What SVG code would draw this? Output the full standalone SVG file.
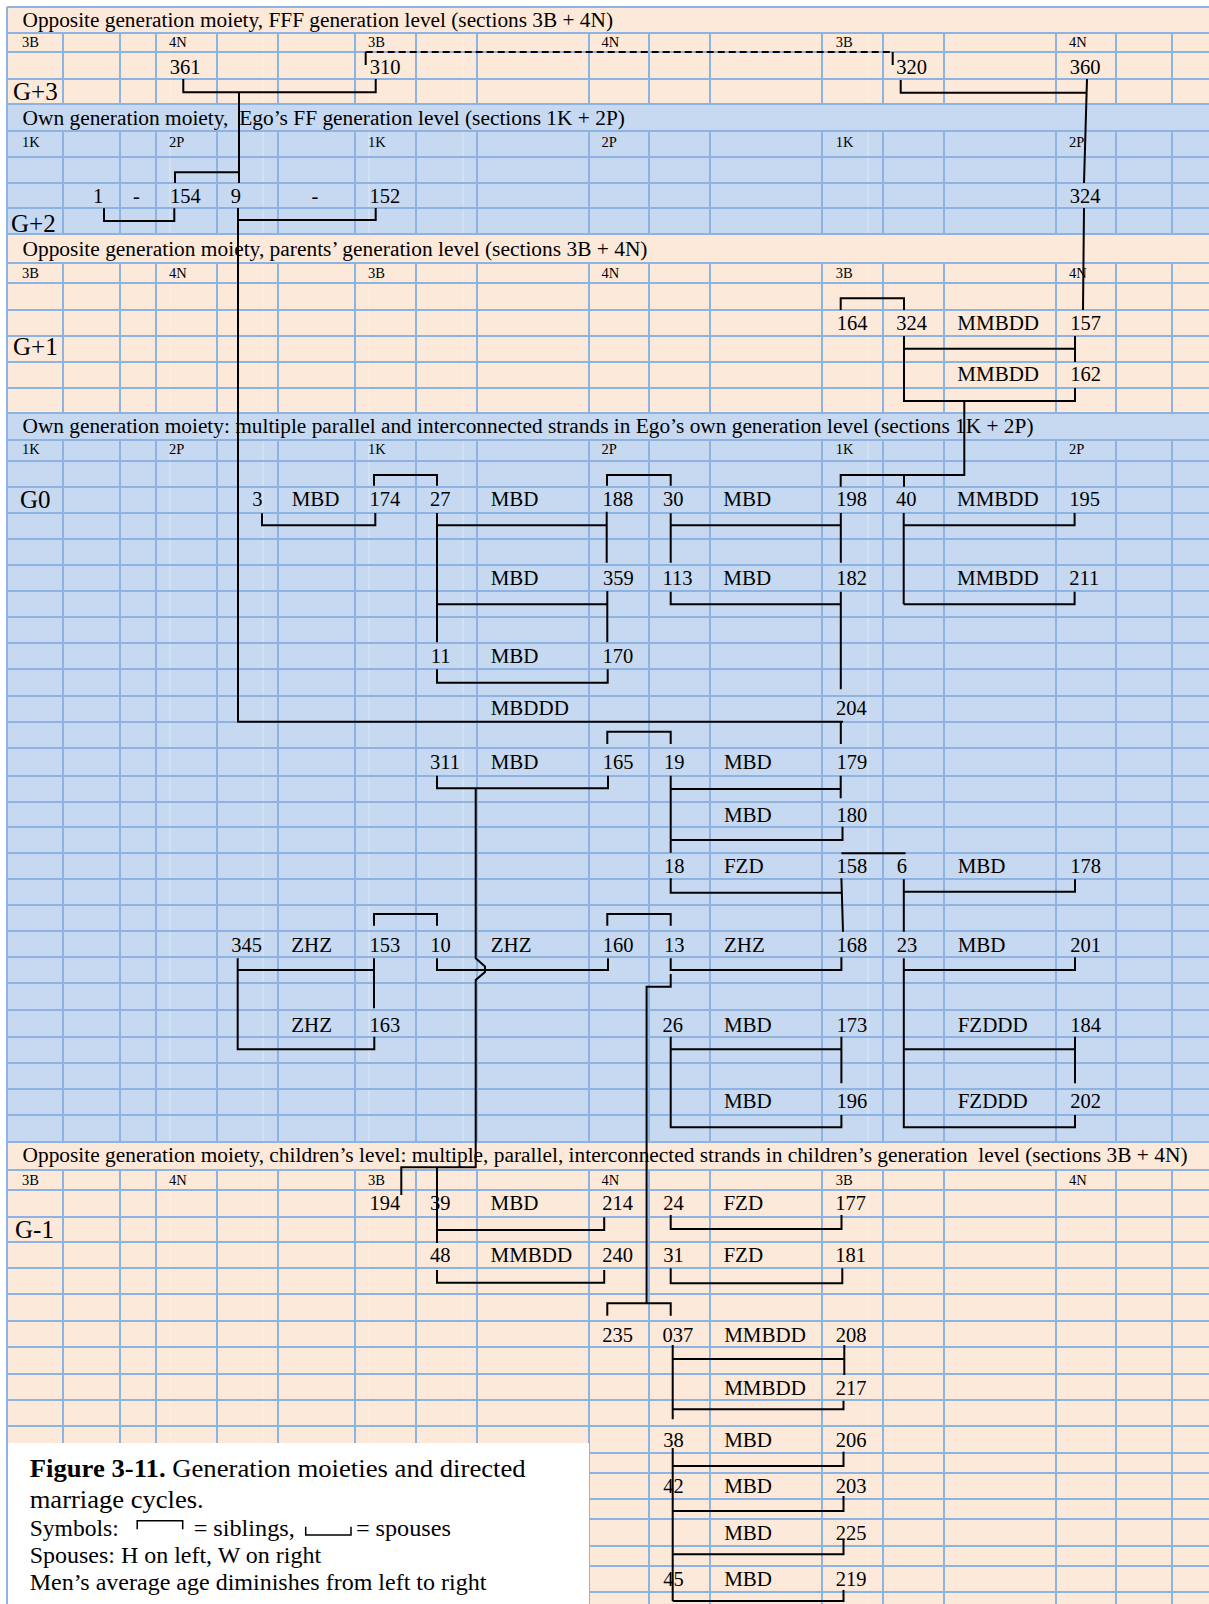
<svg xmlns="http://www.w3.org/2000/svg" width="1209" height="1604" viewBox="0 0 1209 1604">
<style>
text{font-family:"Liberation Serif","Times New Roman",serif;fill:#000}
.t{font-size:20px}
.h{font-size:14.5px}
.g{font-size:25px}
.n{font-size:20.5px}
.r{font-size:21px}
.c1{font-size:26px}
.c2{font-size:23.5px}
.grid{stroke:#8DB3E2;stroke-width:2;fill:none}
.faint{stroke:#ffffff;stroke-width:1;opacity:.4;fill:none}
.ln{stroke:#000;stroke-width:2;fill:none}
</style>
<rect x="0" y="0" width="1209" height="1604" fill="#fff"/>
<g id="background">
<rect x="7" y="7" width="1202" height="97" fill="#FDE9D9"/>
<rect x="7" y="104" width="1202" height="130" fill="#C6D9F1"/>
<rect x="7" y="234" width="1202" height="179" fill="#FDE9D9"/>
<rect x="7" y="413" width="1202" height="729" fill="#C6D9F1"/>
<rect x="7" y="1142" width="1202" height="462" fill="#FDE9D9"/>
</g>
<g id="grid">
<path class="faint" d="M170 33V1604M263 33V1604M369 33V1604M463 33V1604M868 33V1604"/>
<path class="grid" d="M63 7V1604M120 7V1604M156 7V1604M217 7V1604M278 7V1604M355 7V1604M416 7V1604M477 7V1604M589 7V1604M649 7V1604M710 7V1604M822 7V1604M883 7V1604M944 7V1604M1056 7V1604M1116 7V1604M1172 7V1604"/>
<rect x="8" y="8" width="1201" height="24" fill="#FDE9D9"/>
<rect x="8" y="105" width="1201" height="25" fill="#C6D9F1"/>
<rect x="8" y="235" width="1201" height="27" fill="#FDE9D9"/>
<rect x="8" y="414" width="1201" height="25" fill="#C6D9F1"/>
<rect x="8" y="1143" width="1201" height="26" fill="#FDE9D9"/>
<path class="grid" d="M7 7V1604M7 7H1209M7 33H1209M7 52H1209M7 79H1209M7 104H1209M7 131H1209M7 157H1209M7 183H1209M7 208H1209M7 234H1209M7 263H1209M7 283H1209M7 310H1209M7 336H1209M7 362H1209M7 388H1209M7 413H1209M7 440H1209M7 461H1209M7 487H1209M7 513H1209M7 539H1209M7 565H1209M7 591H1209M7 617H1209M7 643H1209M7 669H1209M7 696H1209M7 722H1209M7 748H1209M7 776H1209M7 802H1209M7 827H1209M7 853H1209M7 879H1209M7 905H1209M7 931H1209M7 957H1209M7 983H1209M7 1010H1209M7 1037H1209M7 1063H1209M7 1089H1209M7 1115H1209M7 1142H1209M7 1170H1209M7 1190H1209M7 1217H1209M7 1242H1209M7 1268H1209M7 1294H1209M7 1321H1209M7 1347H1209M7 1374H1209M7 1400H1209M7 1426H1209M7 1453H1209M7 1473H1209M7 1499H1209M7 1519H1209M7 1546H1209M7 1566H1209M7 1592H1209"/>
</g>
<rect id="caption-box" x="8" y="1443" width="581" height="161" fill="#fff"/>
<g id="titles">
<text class="t" x="22.5" y="26.7" textLength="590.5" lengthAdjust="spacingAndGlyphs">Opposite generation moiety, FFF generation level (sections 3B + 4N)</text>
<text class="t" x="22.5" y="125" xml:space="preserve" textLength="602.5" lengthAdjust="spacingAndGlyphs">Own generation moiety,  Ego’s FF generation level (sections 1K + 2P)</text>
<text class="t" x="22.5" y="255.5" textLength="625" lengthAdjust="spacingAndGlyphs">Opposite generation moiety, parents’ generation level (sections 3B + 4N)</text>
<text class="t" x="22.5" y="433.3" textLength="1011" lengthAdjust="spacingAndGlyphs">Own generation moiety: multiple parallel and interconnected strands in Ego’s own generation level (sections 1K + 2P)</text>
<text class="t" x="22.5" y="1161.7" xml:space="preserve" textLength="1165" lengthAdjust="spacingAndGlyphs">Opposite generation moiety, children’s level: multiple, parallel, interconnected strands in children’s generation  level (sections 3B + 4N)</text>
</g>
<g id="headers">
<text class="h" x="22" y="46.7">3B</text><text class="h" x="169" y="46.7">4N</text><text class="h" x="368" y="46.7">3B</text><text class="h" x="601.5" y="46.7">4N</text><text class="h" x="835.7" y="46.7">3B</text><text class="h" x="1069" y="46.7">4N</text>
<text class="h" x="22" y="146.7">1K</text><text class="h" x="169" y="146.7">2P</text><text class="h" x="368" y="146.7">1K</text><text class="h" x="601.5" y="146.7">2P</text><text class="h" x="835.7" y="146.7">1K</text><text class="h" x="1069" y="146.7">2P</text>
<text class="h" x="22" y="277.7">3B</text><text class="h" x="169" y="277.7">4N</text><text class="h" x="368" y="277.7">3B</text><text class="h" x="601.5" y="277.7">4N</text><text class="h" x="835.7" y="277.7">3B</text><text class="h" x="1069" y="277.7">4N</text>
<text class="h" x="22" y="454">1K</text><text class="h" x="169" y="454">2P</text><text class="h" x="368" y="454">1K</text><text class="h" x="601.5" y="454">2P</text><text class="h" x="835.7" y="454">1K</text><text class="h" x="1069" y="454">2P</text>
<text class="h" x="22" y="1185">3B</text><text class="h" x="169" y="1185">4N</text><text class="h" x="368" y="1185">3B</text><text class="h" x="601.5" y="1185">4N</text><text class="h" x="835.7" y="1185">3B</text><text class="h" x="1069" y="1185">4N</text>
</g>
<g id="levels">
<text class="g" x="13" y="100">G+3</text>
<text class="g" x="11" y="231.7">G+2</text>
<text class="g" x="13" y="355">G+1</text>
<text class="g" x="20" y="508">G0</text>
<text class="g" x="15" y="1238">G-1</text>
</g>
<g id="connectors">
<path class="ln" d="M365.7 52V65M892.7 52V65"/>
<path class="ln" stroke-dasharray="7 4" d="M365.7 52H892.7"/>
<path class="ln" d="M183.3 79V92.3H375.7V79M239 92.3V183M175 183V172.3H239"/>
<path class="ln" d="M104 208.3V221H174.3V208.3"/>
<path class="ln" d="M238 208V721.7H843M238 220H375.7V208"/>
<path class="ln" d="M1087 79L1084 183M1084 208L1083 310M900.7 80V92.7H1087"/>
<path class="ln" d="M840.7 310V298.3H904V310"/>
<path class="ln" d="M904 336V401H1075V388M904 348.7H1075M1075 336V362"/>
<path class="ln" d="M964.3 401V475H840.7V486.7M904 475V486.7"/>
<path class="ln" d="M374 485.7V475H437V485.7"/>
<path class="ln" d="M262 513.3V525.3H375.3V513"/>
<path class="ln" d="M437 513V642.3M437 525.3H606.7M606.7 511.7V562.7M437 604.3H607.3M607.3 591V642.3M437 669.3V682.7H607.7V669.3"/>
<path class="ln" d="M607 485.7V475H670.7V485.7"/>
<path class="ln" d="M670.7 513.3V562.7M670.7 525.3H840.8M840.8 513V562.7"/>
<path class="ln" d="M670.7 591.7V604.3H840.8M840.8 591.7V689.3M840.8 721.7V744"/>
<path class="ln" d="M903.7 513V604.3M903.7 525.3H1074.6V513M903.7 604.3H1074.6V591.7"/>
<path class="ln" d="M607.3 744V731.7H670.7V744"/>
<path class="ln" d="M437 775.7V788.3H608V775.7"/>
<path class="ln" d="M475.7 788.3V958.3L485 966.5V972L475.7 980V1167.3H401.3V1195M437 1167.3V1243"/>
<path class="ln" d="M670.7 775.7V852.7M670.7 789H840.7M840.7 775.7V798.3M670.7 840H842.5V826.7"/>
<path class="ln" d="M670.7 878.3V892.7H841.4M841.4 878.3L843 931.7M841.4 853.3H905.6"/>
<path class="ln" d="M903.8 879.3V931.7M903.8 891.7H1075V879.3"/>
<path class="ln" d="M374 925.7V914H437V925.7M607.3 925.7V914H670.7V925.7"/>
<path class="ln" d="M237.7 958.3V1049.3H374.3V1036.7M237.7 970H374M374 958.3V1008.3"/>
<path class="ln" d="M437 958.3V970H608V958.3"/>
<path class="ln" d="M670.7 958.3V970H841.4V957.3"/>
<path class="ln" d="M670.7 974V986.7H646.6V1303.3M607.3 1315.7V1303.3H670.7V1315.7"/>
<path class="ln" d="M903.8 958.3V1127.3H1075V1115M903.8 970H1075V957.3M903.8 1049.3H1075M1075 1036.7V1083.3"/>
<path class="ln" d="M670.7 1036.7V1127.3H841.4V1115M670.7 1049.3H841.4M841.4 1036.7V1083.3"/>
<path class="ln" d="M437 1230H604.2V1217.3M437 1270V1282.7H604.2V1270"/>
<path class="ln" d="M670.7 1215V1229H841.5V1215M670.7 1268.3V1283.3H842.3V1268.3"/>
<path class="ln" d="M672.7 1345V1419.3M672.7 1359H844.3M844.3 1345V1375M672.7 1409.3H843.5V1400.7"/>
<path class="ln" d="M672.7 1448V1601M672.7 1466H843.5V1451.7M672.7 1511H843.5V1496M672.7 1554.3H843.5V1540M672.7 1601H843.5V1590"/>
</g>
<g id="relation-labels">
<text class="r" x="957.3" y="330">MMBDD</text><text class="r" x="957.3" y="381">MMBDD</text>
<text class="n" x="133" y="203">-</text><text class="n" x="311.5" y="203">-</text>
<text class="r" x="291.7" y="506">MBD</text><text class="r" x="490.7" y="506">MBD</text><text class="r" x="723.3" y="506">MBD</text><text class="r" x="957" y="506">MMBDD</text>
<text class="r" x="490.7" y="585">MBD</text><text class="r" x="723.3" y="585">MBD</text><text class="r" x="957" y="585">MMBDD</text>
<text class="r" x="490.7" y="662.7">MBD</text>
<text class="r" x="490.7" y="715.3">MBDDD</text>
<text class="r" x="490.7" y="769.3">MBD</text><text class="r" x="723.9" y="769.3">MBD</text>
<text class="r" x="723.9" y="821.7">MBD</text>
<text class="r" x="723.9" y="873.3">FZD</text><text class="r" x="957.7" y="873.3">MBD</text>
<text class="r" x="291.3" y="951.7">ZHZ</text><text class="r" x="490.7" y="951.7">ZHZ</text><text class="r" x="723.9" y="951.7">ZHZ</text><text class="r" x="957.7" y="951.7">MBD</text>
<text class="r" x="291.3" y="1031.7">ZHZ</text><text class="r" x="723.9" y="1031.7">MBD</text><text class="r" x="957.7" y="1031.7">FZDDD</text>
<text class="r" x="723.9" y="1108.3">MBD</text><text class="r" x="957.7" y="1108.3">FZDDD</text>
<text class="r" x="490.5" y="1210">MBD</text><text class="r" x="723.4" y="1210">FZD</text>
<text class="r" x="490.5" y="1262.3">MMBDD</text><text class="r" x="723.4" y="1262.3">FZD</text>
<text class="r" x="724.2" y="1341.7">MMBDD</text><text class="r" x="724.2" y="1395">MMBDD</text>
<text class="r" x="724.2" y="1446.7">MBD</text><text class="r" x="724.2" y="1493.3">MBD</text><text class="r" x="724.2" y="1540">MBD</text><text class="r" x="724.2" y="1586">MBD</text>
</g>
<g id="nodes">
<g id="n361"><text class="n" x="169.7" y="74">361</text></g>
<g id="n310"><text class="n" x="369.7" y="74">310</text></g>
<g id="n320"><text class="n" x="896.3" y="74">320</text></g>
<g id="n360"><text class="n" x="1069.7" y="74">360</text></g>
<g id="n1"><text class="n" x="93" y="203">1</text></g>
<g id="n154"><text class="n" x="170" y="203">154</text></g>
<g id="n9"><text class="n" x="230.7" y="203">9</text></g>
<g id="n152"><text class="n" x="369.5" y="203">152</text></g>
<g id="n324a"><text class="n" x="1069.7" y="203">324</text></g>
<g id="n164"><text class="n" x="836.8" y="330">164</text></g>
<g id="n324b"><text class="n" x="896.3" y="330">324</text></g>
<g id="n157"><text class="n" x="1070.2" y="330">157</text></g>
<g id="n162"><text class="n" x="1070.2" y="381">162</text></g>
<g id="n3"><text class="n" x="252.3" y="506">3</text></g>
<g id="n174"><text class="n" x="369.5" y="506">174</text></g>
<g id="n27"><text class="n" x="430" y="506">27</text></g>
<g id="n188"><text class="n" x="602.5" y="506">188</text></g>
<g id="n30"><text class="n" x="663" y="506">30</text></g>
<g id="n198"><text class="n" x="836.2" y="506">198</text></g>
<g id="n40"><text class="n" x="896" y="506">40</text></g>
<g id="n195"><text class="n" x="1069.2" y="506">195</text></g>
<g id="n359"><text class="n" x="603" y="585">359</text></g>
<g id="n113"><text class="n" x="662.5" y="585">113</text></g>
<g id="n182"><text class="n" x="836.2" y="585">182</text></g>
<g id="n211"><text class="n" x="1069.2" y="585">211</text></g>
<g id="n11"><text class="n" x="430.8" y="662.7">11</text></g>
<g id="n170"><text class="n" x="602.5" y="662.7">170</text></g>
<g id="n204"><text class="n" x="836" y="715.3">204</text></g>
<g id="n311"><text class="n" x="430" y="769.3">311</text></g>
<g id="n165"><text class="n" x="602.8" y="769.3">165</text></g>
<g id="n19"><text class="n" x="664" y="769.3">19</text></g>
<g id="n179"><text class="n" x="836.4" y="769.3">179</text></g>
<g id="n180"><text class="n" x="836.4" y="821.7">180</text></g>
<g id="n18"><text class="n" x="664" y="873.3">18</text></g>
<g id="n158"><text class="n" x="836.4" y="873.3">158</text></g>
<g id="n6"><text class="n" x="896.8" y="873.3">6</text></g>
<g id="n178"><text class="n" x="1070.2" y="873.3">178</text></g>
<g id="n345"><text class="n" x="231.3" y="951.7">345</text></g>
<g id="n153"><text class="n" x="369.5" y="951.7">153</text></g>
<g id="n10"><text class="n" x="430.2" y="951.7">10</text></g>
<g id="n160"><text class="n" x="602.8" y="951.7">160</text></g>
<g id="n13"><text class="n" x="664" y="951.7">13</text></g>
<g id="n168"><text class="n" x="836.4" y="951.7">168</text></g>
<g id="n23"><text class="n" x="896.8" y="951.7">23</text></g>
<g id="n201"><text class="n" x="1070.2" y="951.7">201</text></g>
<g id="n163"><text class="n" x="369.5" y="1031.7">163</text></g>
<g id="n26"><text class="n" x="662.5" y="1031.7">26</text></g>
<g id="n173"><text class="n" x="836.4" y="1031.7">173</text></g>
<g id="n184"><text class="n" x="1070.2" y="1031.7">184</text></g>
<g id="n196"><text class="n" x="836.4" y="1108.3">196</text></g>
<g id="n202"><text class="n" x="1070.2" y="1108.3">202</text></g>
<g id="n194"><text class="n" x="369.5" y="1210">194</text></g>
<g id="n39"><text class="n" x="430" y="1210">39</text></g>
<g id="n214"><text class="n" x="602.3" y="1210">214</text></g>
<g id="n24"><text class="n" x="663.2" y="1210">24</text></g>
<g id="n177"><text class="n" x="835.2" y="1210">177</text></g>
<g id="n48"><text class="n" x="430" y="1262.3">48</text></g>
<g id="n240"><text class="n" x="602.3" y="1262.3">240</text></g>
<g id="n31"><text class="n" x="663.2" y="1262.3">31</text></g>
<g id="n181"><text class="n" x="835.2" y="1262.3">181</text></g>
<g id="n235"><text class="n" x="602.3" y="1341.7">235</text></g>
<g id="n037"><text class="n" x="662.4" y="1341.7">037</text></g>
<g id="n208"><text class="n" x="835.7" y="1341.7">208</text></g>
<g id="n217"><text class="n" x="835.7" y="1395">217</text></g>
<g id="n38"><text class="n" x="663.2" y="1446.7">38</text></g>
<g id="n206"><text class="n" x="835.7" y="1446.7">206</text></g>
<g id="n42"><text class="n" x="663.2" y="1493.3">42</text></g>
<g id="n203"><text class="n" x="835.7" y="1493.3">203</text></g>
<g id="n225"><text class="n" x="835.7" y="1540">225</text></g>
<g id="n45"><text class="n" x="663.2" y="1586">45</text></g>
<g id="n219"><text class="n" x="835.7" y="1586">219</text></g>
</g>
<g id="caption">
<text class="c1" x="29.7" y="1476.7" textLength="496" lengthAdjust="spacingAndGlyphs"><tspan font-weight="bold">Figure 3-11.</tspan> Generation moieties and directed</text>
<text class="c1" x="29.7" y="1508.3" textLength="174" lengthAdjust="spacingAndGlyphs">marriage cycles.</text>
<text class="c2" x="29.7" y="1536" textLength="89" lengthAdjust="spacingAndGlyphs">Symbols:</text>
<path stroke="#000" stroke-width="1.5" fill="none" d="M137.2 1529.3V1520.7H182.7V1529.3M305.7 1526.7V1535H351V1526.7"/>
<text class="c2" x="193.7" y="1536" textLength="101" lengthAdjust="spacingAndGlyphs">= siblings,</text>
<text class="c2" x="355.9" y="1536" textLength="95" lengthAdjust="spacingAndGlyphs">= spouses</text>
<text class="c2" x="29.7" y="1563.3" textLength="291.4" lengthAdjust="spacingAndGlyphs">Spouses: H on left, W on right</text>
<text class="c2" x="29.7" y="1590" textLength="456.7" lengthAdjust="spacingAndGlyphs">Men’s average age diminishes from left to right</text>
</g>
</svg>
